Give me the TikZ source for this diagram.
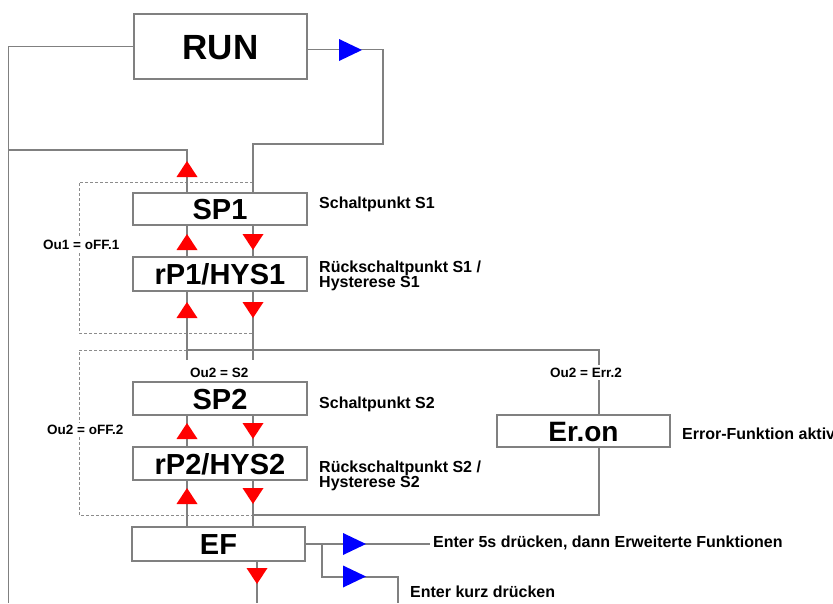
\documentclass[tikz,border=0pt]{standalone}
\usepackage{fontspec}
\setmainfont{Liberation Sans}
\usetikzlibrary{calc}
\definecolor{lgray}{RGB}{128,128,128}
\definecolor{dgray}{RGB}{140,140,140}
\newcommand\TriUp[1]{\fill[red,shift={(#1)}] (-10.5,8) -- (10.5,8) -- (0,-8) -- cycle;}
\newcommand\TriDn[1]{\fill[red,shift={(#1)}] (-10.5,-8) -- (10.5,-8) -- (0,8) -- cycle;}
\newcommand\TriRt[1]{\fill[blue,shift={(#1)}] (-11.5,-11) -- (-11.5,11) -- (11.5,0) -- cycle;}
\begin{document}
\begin{tikzpicture}[x=1pt,y=-1pt,
  wire/.style={draw=lgray,line width=1.2pt},
  dashline/.style={draw=dgray,line width=0.9pt,dash pattern=on 3pt off 2pt},
  box/.style={draw=lgray,line width=1.2pt,fill=white,minimum width=174pt,minimum height=33pt,
    inner sep=0pt,font=\bfseries\fontsize{29}{29}\selectfont,text height=21pt,text depth=0pt},
  lbl/.style={font=\bfseries\fontsize{16}{15}\selectfont,inner sep=0pt,anchor=base west},
  mlbl/.style={font=\bfseries\fontsize{16}{15}\selectfont,inner sep=0pt,anchor=north west,align=left},
  small/.style={font=\bfseries\fontsize{13.5}{13.5}\selectfont,fill=white,inner sep=2pt,anchor=base west}]
\clip (0,0) rectangle (833,603);
\fill[white] (0,0) rectangle (833,603);

% helper coordinates
\coordinate (xL) at (187,0);
\coordinate (xR) at (253,0);
\coordinate (xE) at (257,0);
\coordinate (xO) at (599,0);
\coordinate (c0) at (8.5,603);
\coordinate (h1) at (8.5,150);
\coordinate (b1) at (0,360);
\coordinate (br) at (322,544);
\coordinate (eend) at (430,544);
\coordinate (kend) at (398,603);

% boxes
\node[box,minimum width=173pt,minimum height=65pt,font=\bfseries\fontsize{35}{35}\selectfont,text height=25pt] (run) at (220.5,46.5) {RUN};
\node[box,minimum height=32pt] (sp1) at (220,209) {SP1};
\node[box,minimum height=34pt] (rp1) at (220,274) {rP1/HYS1};
\node[box] (sp2) at (220,398.5) {SP2};
\node[box] (rp2) at (220,463.5) {rP2/HYS2};
\node[box,minimum width=173pt,minimum height=34pt] (ef) at (218.5,544) {EF};
\node[box,minimum width=173pt,minimum height=32pt,font=\bfseries\fontsize{28}{28}\selectfont,text height=20pt] (eron) at (583.5,431) {Er.on};

% dashed frames
\draw[dashline] (253,182) -- (79,182) -- (79,333) -- (253,333);
\draw[dashline] (187,350) -- (79,350) -- (79,515) -- (253,515);

% connectors
\draw[wire] (run.west) -| (c0);
\draw[wire] (h1) -| (sp1.north -| xL);
\draw[wire] ([yshift=-3pt]run.east) -- (383,49.5) -- (383,144) -| (sp1.north -| xR);
\draw[wire] (sp1.south -| xL) -- (rp1.north -| xL);
\draw[wire] (sp1.south -| xR) -- (rp1.north -| xR);
\draw[wire] (rp1.south -| xL) -- (b1 -| xL);
\draw[wire] (rp1.south -| xR) -- (b1 -| xR);
\draw[wire] (sp2.south -| xL) -- (rp2.north -| xL);
\draw[wire] (sp2.south -| xR) -- (rp2.north -| xR);
\draw[wire] (rp2.south -| xL) -- (ef.north -| xL);
\draw[wire] (rp2.south -| xR) -- (ef.north -| xR);
\draw[wire] (ef.south -| xE) -- (xE |- c0);
\draw[wire] (ef.east) -- (eend);
\draw[wire] (br) -- (322,577) -| (kend);
\draw[wire] (187,350) -- (599,350) -- (eron.north -| xO);
\draw[wire] (eron.south -| xO) -- (599,515) -- (253,515);

% arrowheads
\TriUp{187,169}
\TriUp{187,242}
\TriDn{253,242}
\TriUp{187,310}
\TriDn{253,310}
\TriUp{187,431}
\TriDn{253,431}
\TriUp{187,496}
\TriDn{253,496}
\TriDn{257,576}
\TriRt{350.5,50}
\TriRt{354.5,544}
\TriRt{354.5,576.5}

% labels
\node[lbl] (t1) at (319,208.5) {Schaltpunkt S1};
\node[mlbl] (t2) at (319,261) {Rückschaltpunkt S1 /\\Hysterese S1};
\node[lbl] (t3) at (319,408) {Schaltpunkt S2};
\node[mlbl] (t4) at (319,461) {Rückschaltpunkt S2 /\\Hysterese S2};
\node[lbl] (t5) at (682,439) {Error-Funktion aktiv};
\node[lbl] (t6) at (433,547) {Enter 5s drücken, dann Erweiterte Funktionen};
\node[lbl] (t7) at (410,597) {Enter kurz drücken};
\node[small] (o1) at (41,249) {Ou1 = oFF.1};
\node[small] (o2) at (45,434) {Ou2 = oFF.2};
\node[small,fill=none,inner sep=0pt] (o3) at (190,377) {Ou2 = S2};
\node[small,inner sep=3pt] (o4) at (547,377) {Ou2 = Err.2};
\end{tikzpicture}
\end{document}
